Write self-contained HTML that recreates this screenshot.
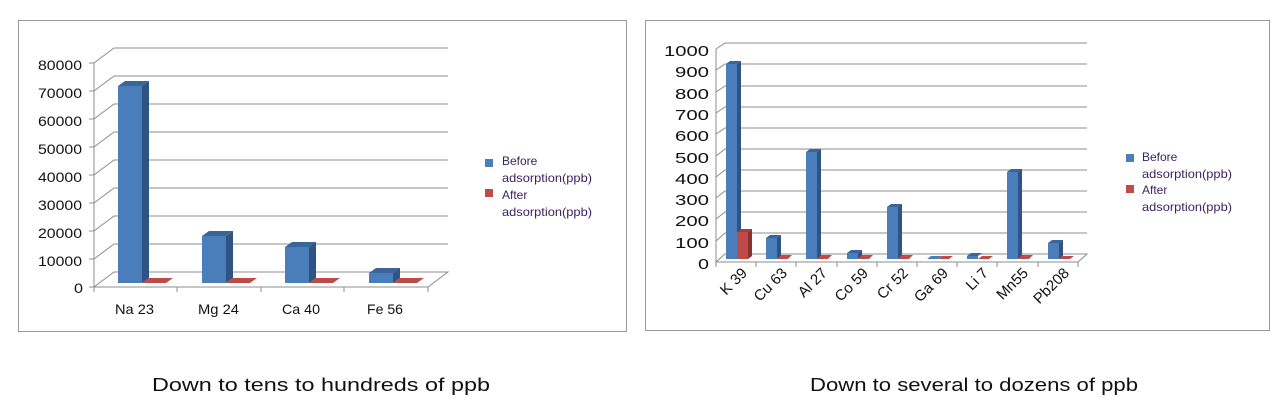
<!DOCTYPE html>
<html><head><meta charset="utf-8"><style>
html,body{margin:0;padding:0;background:#fff;}
svg{display:block;font-family:"Liberation Sans",sans-serif;}
</style></head><body>
<svg width="1276" height="417" viewBox="0 0 1276 417" xmlns="http://www.w3.org/2000/svg">
<rect width="1276" height="417" fill="#fff"/>
<!-- LEFT PANEL -->
<rect x="18.5" y="20.5" width="608" height="311" fill="#fff" stroke="#9a9a9a" stroke-width="1"/>
<g stroke="#8c8c8c" stroke-width="1" fill="none">
<polyline points="94,63 114,48 448,48"/>
<polyline points="94,91 114,76 448,76"/>
<polyline points="94,119 114,104 448,104"/>
<polyline points="94,147 114,132 448,132"/>
<polyline points="94,175 114,160 448,160"/>
<polyline points="94,203 114,188 448,188"/>
<polyline points="94,231 114,216 448,216"/>
<polyline points="94,259 114,244 448,244"/>
<polyline points="94,287 114,272 448,272 428,287 94,287"/>
<line x1="94" y1="63" x2="94" y2="287"/>
<line x1="94" y1="287" x2="94" y2="292"/><line x1="177" y1="287" x2="177" y2="292"/><line x1="261" y1="287" x2="261" y2="292"/><line x1="344" y1="287" x2="344" y2="292"/><line x1="428" y1="287" x2="428" y2="292"/>
<line x1="89" y1="63" x2="94" y2="63"/><line x1="89" y1="91" x2="94" y2="91"/><line x1="89" y1="119" x2="94" y2="119"/><line x1="89" y1="147" x2="94" y2="147"/><line x1="89" y1="175" x2="94" y2="175"/><line x1="89" y1="203" x2="94" y2="203"/><line x1="89" y1="231" x2="94" y2="231"/><line x1="89" y1="259" x2="94" y2="259"/><line x1="89" y1="287" x2="94" y2="287"/>
</g>
<g font-size="14" fill="#111">
<text x="38" y="70" textLength="44" lengthAdjust="spacingAndGlyphs">80000</text>
<text x="38" y="98" textLength="44" lengthAdjust="spacingAndGlyphs">70000</text>
<text x="38" y="126" textLength="44" lengthAdjust="spacingAndGlyphs">60000</text>
<text x="38" y="154" textLength="44" lengthAdjust="spacingAndGlyphs">50000</text>
<text x="38" y="182" textLength="44" lengthAdjust="spacingAndGlyphs">40000</text>
<text x="38" y="210" textLength="44" lengthAdjust="spacingAndGlyphs">30000</text>
<text x="38" y="238" textLength="44" lengthAdjust="spacingAndGlyphs">20000</text>
<text x="38" y="266" textLength="44" lengthAdjust="spacingAndGlyphs">10000</text>
<text x="74" y="293" textLength="9" lengthAdjust="spacingAndGlyphs">0</text>
</g>
<g font-size="14" fill="#111">
<text x="115" y="314" textLength="39" lengthAdjust="spacingAndGlyphs">Na 23</text>
<text x="198" y="314" textLength="41" lengthAdjust="spacingAndGlyphs">Mg 24</text>
<text x="282" y="314" textLength="38" lengthAdjust="spacingAndGlyphs">Ca 40</text>
<text x="367" y="314" textLength="36" lengthAdjust="spacingAndGlyphs">Fe 56</text>
</g>
<!-- left bars -->
<g>
<rect x="118" y="86" width="24" height="197" fill="#4a7ebb"/><polygon points="118,86 125,81 149,81 142,86" fill="#3a659a"/><polygon points="142,86 149,81 149,278 142,283" fill="#2f5382"/>
<rect x="202" y="236" width="24" height="47" fill="#4a7ebb"/><polygon points="202,236 209,231 233,231 226,236" fill="#3a659a"/><polygon points="226,236 233,231 233,278 226,283" fill="#2f5382"/>
<rect x="285" y="247" width="24" height="36" fill="#4a7ebb"/><polygon points="285,247 292,242 316,242 309,247" fill="#3a659a"/><polygon points="309,247 316,242 316,278 309,283" fill="#2f5382"/>
<rect x="369" y="273" width="24" height="10" fill="#4a7ebb"/><polygon points="369,273 376,268 400,268 393,273" fill="#3a659a"/><polygon points="393,273 400,268 400,278 393,283" fill="#2f5382"/>
<polygon points="142,283 166,283 173,278 149,278" fill="#be4b48"/>
<polygon points="226,283 250,283 257,278 233,278" fill="#be4b48"/>
<polygon points="309,283 333,283 340,278 316,278" fill="#be4b48"/>
<polygon points="393,283 417,283 424,278 400,278" fill="#be4b48"/>
</g>
<g font-size="12" fill="#3b1f5e">
<rect x="485" y="159" width="8" height="8" fill="#4a7ebb"/>
<text x="502" y="165">Before</text><text x="502" y="182" textLength="90" lengthAdjust="spacingAndGlyphs">adsorption(ppb)</text>
<rect x="485" y="189" width="8" height="8" fill="#be4b48"/>
<text x="502" y="199">After</text><text x="502" y="216" textLength="90" lengthAdjust="spacingAndGlyphs">adsorption(ppb)</text>
</g>
<!-- RIGHT PANEL -->
<rect x="645.5" y="20.5" width="624" height="310" fill="#fff" stroke="#9a9a9a" stroke-width="1"/>
<g stroke="#8c8c8c" stroke-width="1" fill="none">
<polyline points="716,49 725,43 1087,43"/>
<polyline points="716,70 725,64 1087,64"/>
<polyline points="716,92 725,86 1087,86"/>
<polyline points="716,113 725,107 1087,107"/>
<polyline points="716,134 725,128 1087,128"/>
<polyline points="716,156 725,149 1087,149"/>
<polyline points="716,177 725,170 1087,170"/>
<polyline points="716,198 725,191 1087,191"/>
<polyline points="716,219 725,212 1087,212"/>
<polyline points="716,241 725,233 1087,233"/>
<polyline points="716,262 725,254 1087,254 1078,262 716,262"/>
<line x1="716" y1="49" x2="716" y2="262"/>
<g>
<line x1="716" y1="262" x2="716" y2="267"/><line x1="756" y1="262" x2="756" y2="267"/><line x1="796" y1="262" x2="796" y2="267"/><line x1="837" y1="262" x2="837" y2="267"/><line x1="877" y1="262" x2="877" y2="267"/><line x1="917" y1="262" x2="917" y2="267"/><line x1="957" y1="262" x2="957" y2="267"/><line x1="997" y1="262" x2="997" y2="267"/><line x1="1038" y1="262" x2="1038" y2="267"/><line x1="1078" y1="262" x2="1078" y2="267"/>
</g>
</g>
<g font-size="15" fill="#111">
<text x="664" y="56" textLength="45" lengthAdjust="spacingAndGlyphs">1000</text>
<text x="675" y="77" textLength="34" lengthAdjust="spacingAndGlyphs">900</text>
<text x="675" y="99" textLength="34" lengthAdjust="spacingAndGlyphs">800</text>
<text x="675" y="120" textLength="34" lengthAdjust="spacingAndGlyphs">700</text>
<text x="675" y="141" textLength="34" lengthAdjust="spacingAndGlyphs">600</text>
<text x="675" y="163" textLength="34" lengthAdjust="spacingAndGlyphs">500</text>
<text x="675" y="184" textLength="34" lengthAdjust="spacingAndGlyphs">400</text>
<text x="675" y="205" textLength="34" lengthAdjust="spacingAndGlyphs">300</text>
<text x="675" y="226" textLength="34" lengthAdjust="spacingAndGlyphs">200</text>
<text x="675" y="248" textLength="34" lengthAdjust="spacingAndGlyphs">100</text>
<text x="698" y="269" textLength="11" lengthAdjust="spacingAndGlyphs">0</text>
</g>
<g font-size="15" fill="#111" text-anchor="end">
<text transform="translate(748,274) rotate(-45)">K 39</text>
<text transform="translate(788,274) rotate(-45)">Cu 63</text>
<text transform="translate(828,274) rotate(-45)">Al 27</text>
<text transform="translate(869,274) rotate(-45)">Co 59</text>
<text transform="translate(909,274) rotate(-45)">Cr 52</text>
<text transform="translate(949,274) rotate(-45)">Ga 69</text>
<text transform="translate(989,274) rotate(-45)">Li 7</text>
<text transform="translate(1029,274) rotate(-45)">Mn55</text>
<text transform="translate(1070,274) rotate(-45)">Pb208</text>
</g>
<g>
<rect x="726" y="64" width="11" height="195" fill="#4a7ebb"/><polygon points="726,64 730,61 741,61 737,64" fill="#3a659a"/><polygon points="737,64 741,61 741,256 737,259" fill="#2f5382"/>
<rect x="766" y="238" width="11" height="21" fill="#4a7ebb"/><polygon points="766,238 770,235 781,235 777,238" fill="#3a659a"/><polygon points="777,238 781,235 781,256 777,259" fill="#2f5382"/>
<rect x="806" y="152" width="11" height="107" fill="#4a7ebb"/><polygon points="806,152 810,149 821,149 817,152" fill="#3a659a"/><polygon points="817,152 821,149 821,256 817,259" fill="#2f5382"/>
<rect x="847" y="253" width="11" height="6" fill="#4a7ebb"/><polygon points="847,253 851,250 862,250 858,253" fill="#3a659a"/><polygon points="858,253 862,250 862,256 858,259" fill="#2f5382"/>
<rect x="887" y="207" width="11" height="52" fill="#4a7ebb"/><polygon points="887,207 891,204 902,204 898,207" fill="#3a659a"/><polygon points="898,207 902,204 902,256 898,259" fill="#2f5382"/>
<polygon points="927,259 938,259 942,256 931,256" fill="#4a7ebb"/>
<rect x="967" y="256" width="11" height="3" fill="#4a7ebb"/><polygon points="967,256 971,253 982,253 978,256" fill="#3a659a"/>
<rect x="1007" y="172" width="11" height="87" fill="#4a7ebb"/><polygon points="1007,172 1011,169 1022,169 1018,172" fill="#3a659a"/><polygon points="1018,172 1022,169 1022,256 1018,259" fill="#2f5382"/>
<rect x="1048" y="243" width="11" height="16" fill="#4a7ebb"/><polygon points="1048,243 1052,240 1063,240 1059,243" fill="#3a659a"/><polygon points="1059,243 1063,240 1063,256 1059,259" fill="#2f5382"/>
<rect x="737" y="232" width="11" height="27" fill="#be4b48"/><polygon points="737,232 741,229 752,229 748,232" fill="#a33c3a"/><polygon points="748,232 752,229 752,256 748,259" fill="#8a302e"/>
<polygon points="777,259 788,259 792,255 781,255" fill="#be4b48"/>
<polygon points="817,259 828,259 832,255 821,255" fill="#be4b48"/>
<polygon points="858,259 869,259 873,255 862,255" fill="#be4b48"/>
<polygon points="898,259 909,259 913,255 902,255" fill="#be4b48"/>
<polygon points="938,259 949,259 953,256 942,256" fill="#be4b48"/>
<polygon points="978,259 989,259 993,256 982,256" fill="#be4b48"/>
<polygon points="1018,259 1029,259 1033,255 1022,255" fill="#be4b48"/>
<polygon points="1059,259 1070,259 1074,256 1063,256" fill="#be4b48"/>
</g>
<g font-size="12" fill="#3b1f5e">
<rect x="1126" y="154" width="8" height="8" fill="#4a7ebb"/>
<text x="1142" y="161">Before</text><text x="1142" y="178" textLength="90" lengthAdjust="spacingAndGlyphs">adsorption(ppb)</text>
<rect x="1126" y="185" width="8" height="8" fill="#be4b48"/>
<text x="1142" y="194">After</text><text x="1142" y="211" textLength="90" lengthAdjust="spacingAndGlyphs">adsorption(ppb)</text>
</g>
<!-- captions -->
<g font-size="18" fill="#111">
<text x="152" y="391" textLength="338" lengthAdjust="spacingAndGlyphs">Down to tens to hundreds of ppb</text>
<text x="810" y="391" textLength="328" lengthAdjust="spacingAndGlyphs">Down to several to dozens of ppb</text>
</g>
</svg>
</body></html>
